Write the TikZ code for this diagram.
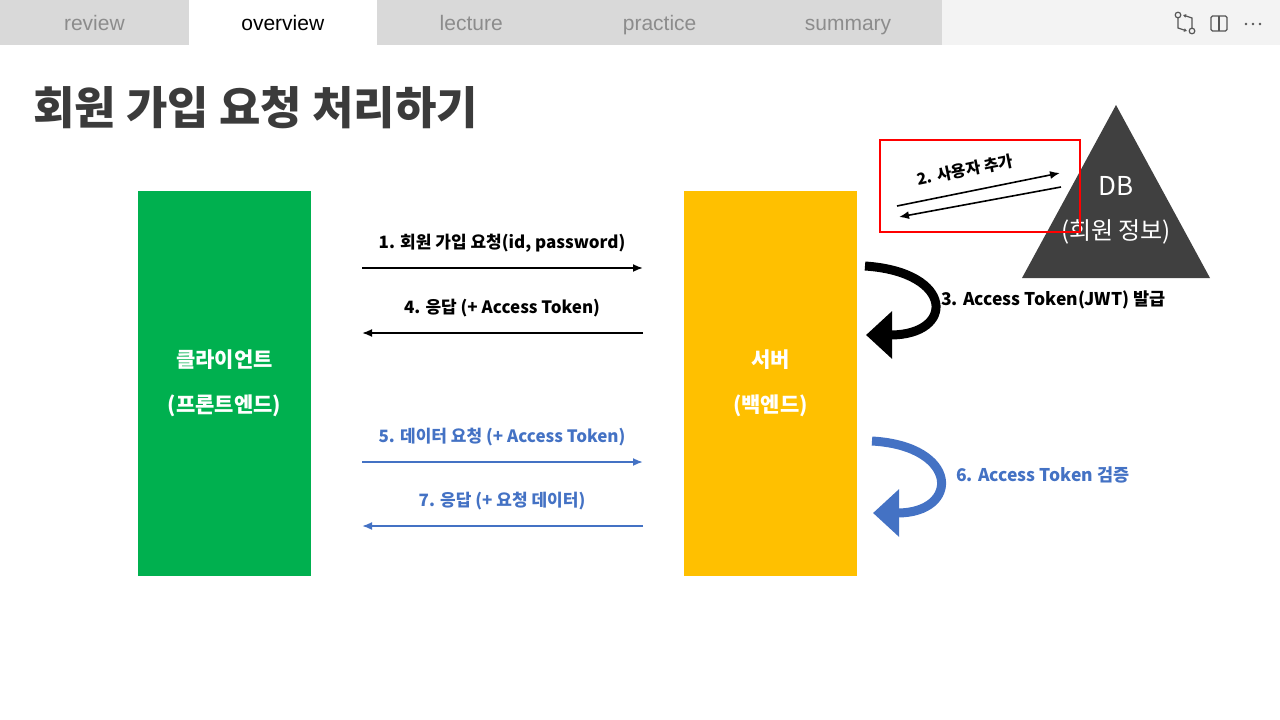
\documentclass[tikz,border=0pt]{standalone}
\usepackage{fontspec}
\setmainfont{Noto Sans CJK KR}
\newfontfamily\tabfont{Liberation Sans}
\usetikzlibrary{arrows.meta}

\definecolor{tabgray}{HTML}{D9D9D9}
\definecolor{barright}{HTML}{F3F3F3}
\definecolor{tabtext}{HTML}{8C8C8C}
\definecolor{titlegray}{HTML}{3B3B3B}
\definecolor{clientgreen}{HTML}{00B04F}
\definecolor{serveryellow}{HTML}{FFC000}
\definecolor{tokenblue}{HTML}{4472C4}
\definecolor{dbgray}{HTML}{404040}
\definecolor{icongray}{HTML}{555555}

\begin{document}
\begin{tikzpicture}[
    x=1pt, y=-1pt,
    >={Latex[length=10pt,width=8pt]},
    tab/.style={
        anchor=north west,
        inner sep=0pt,
        minimum width=188.4pt,
        minimum height=45pt,
        text height=20pt,
        text depth=4pt,
        font=\tabfont\fontsize{21}{24}\selectfont
    },
    box/.style={
        inner sep=0pt,
        minimum width=173pt,
        minimum height=385pt,
        align=center,
        text=white,
        font=\fontsize{21}{45}\selectfont\bfseries
    },
    lbl/.style={
        inner sep=1pt,
        font=\fontsize{17}{20}\selectfont\bfseries
    },
    msg/.style={
        ->,
        line width=1.8pt
    },
    turn/.style={
        line width=9pt,
        -{Triangle[length=26pt,width=46pt]}
    }
]
    \useasboundingbox (0,0) rectangle (1280,720);

    % tab bar
    \fill[barright] (942,0) rectangle (1280,45);
    \foreach \i/\name/\bg/\fg in {
        0/review/tabgray/tabtext,
        1/overview/white/black,
        2/lecture/tabgray/tabtext,
        3/practice/tabgray/tabtext,
        4/summary/tabgray/tabtext%
    }{
        \node[tab, fill=\bg, text=\fg] (tab\i) at (\i*188.4,0) {\name};
    }

    % icons
    \draw[icongray, line width=1.2pt] (1178,15) circle (2.8);
    \draw[icongray, line width=1.2pt] (1192,31) circle (2.8);
    \draw[icongray, line width=1.2pt, -{Latex[length=3pt,width=4pt]}]
        (1178,18) -- (1178,28) -- (1187,31);
    \draw[icongray, line width=1.2pt, -{Latex[length=3pt,width=4pt]}]
        (1192,28) -- (1192,18) -- (1183,15);
    \draw[icongray, line width=1.2pt, rounded corners=1.5pt]
        (1211,16) rectangle (1227,31);
    \draw[icongray, line width=1.2pt] (1219,16) -- (1219,31);
    \foreach \x in {1246,1253,1260}{
        \fill[icongray] (\x,24) circle (1.4);
    }

    % title
    \node[anchor=west, inner sep=0pt, text=titlegray,
        font=\fontsize{45}{50}\selectfont\bfseries] (title) at (33,108)
        {회원 가입 요청 처리하기};

    % client / server
    \node[box, fill=clientgreen] (client) at (224.5,383.5)
        {클라이언트\\(프론트엔드)};
    \node[box, fill=serveryellow] (server) at (770.5,383.5)
        {서버\\(백엔드)};

    % messages
    \foreach \n/\y/\xa/\xb/\col/\txt in {
        1/268/362/643/black/{1. 회원 가입 요청(id, password)},
        4/333/643/362/black/{4. 응답 (+ Access Token)},
        5/462/362/643/tokenblue/{5. 데이터 요청 (+ Access Token)},
        7/526/643/362/tokenblue/{7. 응답 (+ 요청 데이터)}%
    }{
        \coordinate (a\n) at (\xa,\y);
        \coordinate (b\n) at (\xb,\y);
        \draw[msg, draw=\col] (a\n) -- (b\n);
        \node[lbl, text=\col] (m\n) at (502,\y-25) {\txt};
    }

    % token issue / check
    \coordinate (t3a) at (865,266);
    \coordinate (t3b) at (866,335);
    \draw[turn, draw=black]
        (t3a) .. controls (955,272) and (955,335) .. (t3b);
    \node[lbl, anchor=west, font=\fontsize{17.5}{20}\selectfont\bfseries]
        (m3) at (940,300) {3. Access Token(JWT) 발급};

    \coordinate (t6a) at (872,441);
    \coordinate (t6b) at (873,513);
    \draw[turn, draw=tokenblue]
        (t6a) .. controls (960,446) and (960,513) .. (t6b);
    \node[lbl, anchor=west, text=tokenblue,
        font=\fontsize{17.5}{20}\selectfont\bfseries] (m6) at (955,475)
        {6. Access Token 검증};

    % database
    \fill[dbgray] (1116,105) -- (1210,278) -- (1022,278) -- cycle;
    \node[text=white, font=\fontsize{26}{30}\selectfont] (dbname)
        at (1116,186) {DB};
    \node[text=white, font=\fontsize{24}{30}\selectfont] (dbinfo)
        at (1116,232) {(회원 정보)};

    % add user
    \coordinate (q1) at (897,206);
    \coordinate (q2) at (1060,173);
    \coordinate (q3) at (1061,187);
    \coordinate (q4) at (899,217);
    \draw[msg, line width=1.6pt] (q1) -- (q2);
    \draw[msg, line width=1.6pt] (q3) -- (q4);
    \node[lbl, rotate=11.5, inner sep=0pt,
        font=\fontsize{16}{20}\selectfont\bfseries] (m2)
        at (965,170) {2. 사용자 추가};
    \draw[red, line width=2pt] (880,140) rectangle (1080,232);

\end{tikzpicture}
\end{document}
